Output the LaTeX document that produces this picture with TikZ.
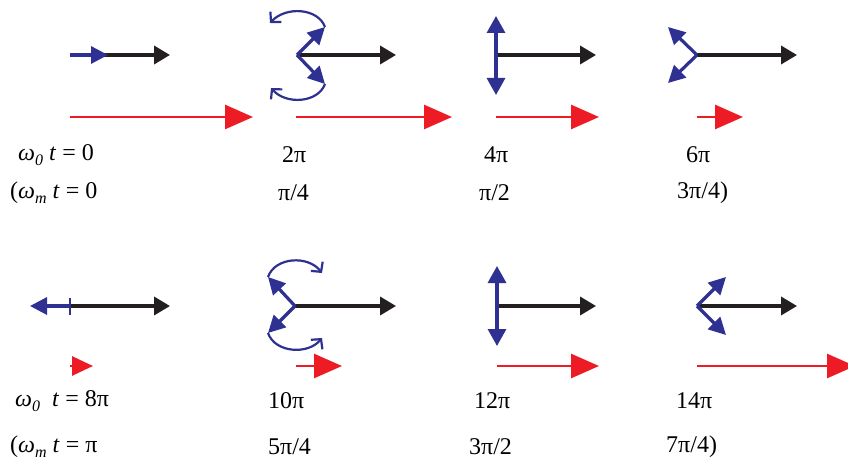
\documentclass[tikz,border=0pt]{standalone}
\usepackage{fontspec}
\setmainfont{Liberation Serif}
\usetikzlibrary{arrows.meta}
\definecolor{cblue}{HTML}{2E3192}
\definecolor{cred}{HTML}{ED1C24}
\definecolor{cblack}{HTML}{231F20}
\newcommand{\wsub}[1]{\textit{ω}\raisebox{-0.4ex}{\fontsize{16}{16}\selectfont\textit{#1}}}
\begin{document}
\begin{tikzpicture}[x=1pt,y=-1pt,
  blk/.style={draw=cblack, line width=3.5pt, -{Triangle[length=16pt,width=18pt]}},
  blu/.style={draw=cblue, line width=3.2pt, -{Triangle[length=17pt,width=17pt]}},
  bluv/.style={draw=cblue, line width=3.2pt, {Triangle[length=17pt,width=18pt]}-{Triangle[length=17pt,width=18pt]}},
  redarr/.style={draw=cred, line width=2.8pt, -{Triangle[length=28pt,width=24pt]}},
  curv/.style={draw=cblue, line width=2.2pt, -{Straight Barb[length=7pt,width=15pt]}},
  lbl/.style={anchor=west, inner sep=0pt, font=\fontsize{24}{28}\selectfont}]
\clip (0,0) rectangle (848,462);
\fill[white] (0,0) rectangle (848,462);
% ---------- top row ----------
% panel 1
\coordinate (o1) at (70,55);
\coordinate (k1) at (170,55);
\coordinate (b1) at (108,55);
\coordinate (r1s) at (70,117);
\coordinate (r1e) at (253,117);
\draw[blk] (o1) -- (k1);
\draw[blu] (o1) -- (b1);
\draw[redarr] (r1s) -- (r1e);
% panel 2
\coordinate (o2) at (297,55);
\coordinate (k2) at (396,55);
\coordinate (b2a) at (325,27);
\coordinate (b2b) at (325,84);
\coordinate (c2a) at (270,23);
\coordinate (c2b) at (271,88);
\coordinate (r2s) at (296,117);
\coordinate (r2e) at (452,117);
\draw[blk] (o2) -- (k2);
\draw[blu] (o2) -- (b2a);
\draw[blu] (o2) -- (b2b);
\draw[curv] (b2a) .. controls (318,8) and (286,6) .. (c2a);
\draw[curv] (b2b) .. controls (318,103) and (286,105) .. (c2b);
\draw[redarr] (r2s) -- (r2e);
% panel 3
\coordinate (o3) at (496,55);
\coordinate (k3) at (596,55);
\coordinate (b3a) at (496,16);
\coordinate (b3b) at (496,95);
\coordinate (r3s) at (496,117);
\coordinate (r3e) at (599,117);
\draw[blk] (o3) -- (k3);
\draw[bluv] (b3a) -- (b3b);
\draw[redarr] (r3s) -- (r3e);
% panel 4
\coordinate (o4) at (697,55);
\coordinate (k4) at (797,55);
\coordinate (b4a) at (668,27);
\coordinate (b4b) at (668,83);
\coordinate (r4s) at (697,117);
\coordinate (r4e) at (743,117);
\draw[blk] (o4) -- (k4);
\draw[blu] (o4) -- (b4a);
\draw[blu] (o4) -- (b4b);
\draw[redarr] (r4s) -- (r4e);
% ---------- bottom row ----------
% panel 5
\coordinate (o5) at (70,306);
\coordinate (k5) at (170,306);
\coordinate (b5) at (30,306);
\coordinate (t5a) at (70,298);
\coordinate (t5b) at (70,315);
\coordinate (r5s) at (70,366);
\coordinate (r5e) at (93,366);
\draw[blk] (o5) -- (k5);
\draw[blu] (o5) -- (b5);
\draw[draw=cblue, line width=1.2pt] (t5a) -- (t5b);
\draw[draw=cred, line width=2.8pt, -{Triangle[length=21pt,width=19pt]}] (r5s) -- (r5e);
% panel 6
\coordinate (o6) at (295,306);
\coordinate (k6) at (396,306);
\coordinate (b6a) at (268,277);
\coordinate (b6b) at (268,333);
\coordinate (c6a) at (322,273);
\coordinate (c6b) at (322,338);
\coordinate (r6s) at (296,366);
\coordinate (r6e) at (342,366);
\draw[blk] (o6) -- (k6);
\draw[blu] (o6) -- (b6a);
\draw[blu] (o6) -- (b6b);
\draw[curv] (b6a) .. controls (275,257) and (308,255) .. (c6a);
\draw[curv] (b6b) .. controls (275,353) and (308,355) .. (c6b);
\draw[redarr] (r6s) -- (r6e);
% panel 7
\coordinate (o7) at (497,306);
\coordinate (k7) at (596,306);
\coordinate (b7a) at (497,266);
\coordinate (b7b) at (497,346);
\coordinate (r7s) at (497,366);
\coordinate (r7e) at (599,366);
\draw[blk] (o7) -- (k7);
\draw[bluv] (b7a) -- (b7b);
\draw[redarr] (r7s) -- (r7e);
% panel 8
\coordinate (o8) at (697,306);
\coordinate (k8) at (797,306);
\coordinate (b8a) at (726,277);
\coordinate (b8b) at (726,335);
\coordinate (r8s) at (697,366);
\coordinate (r8e) at (855,366);
\draw[blk] (o8) -- (k8);
\draw[blu] (o8) -- (b8a);
\draw[blu] (o8) -- (b8b);
\draw[redarr] (r8s) -- (r8e);
% ---------- labels ----------
\node[lbl] (l1a) at (18,155) {\wsub{0} \textit{t} = 0};
\node[lbl] (l2a) at (282,155) {2π};
\node[lbl] (l3a) at (484,155) {4π};
\node[lbl] (l4a) at (686,155) {6π};
\node[lbl] (l1b) at (10,193) {(\wsub{m} \textit{t} = 0};
\node[lbl] (l2b) at (278,193) {π/4};
\node[lbl] (l3b) at (479,193) {π/2};
\node[lbl] (l4b) at (677,193) {3π/4)};
\node[lbl] (l5a) at (15,401) {\wsub{0}\ \ \textit{t} = 8π};
\node[lbl] (l6a) at (268,401) {10π};
\node[lbl] (l7a) at (474,401) {12π};
\node[lbl] (l8a) at (676,401) {14π};
\node[lbl] (l5b) at (10,447) {(\wsub{m} \textit{t} = π};
\node[lbl] (l6b) at (268,447) {5π/4};
\node[lbl] (l7b) at (469,447) {3π/2};
\node[lbl] (l8b) at (666,447) {7π/4)};
\end{tikzpicture}
\end{document}
